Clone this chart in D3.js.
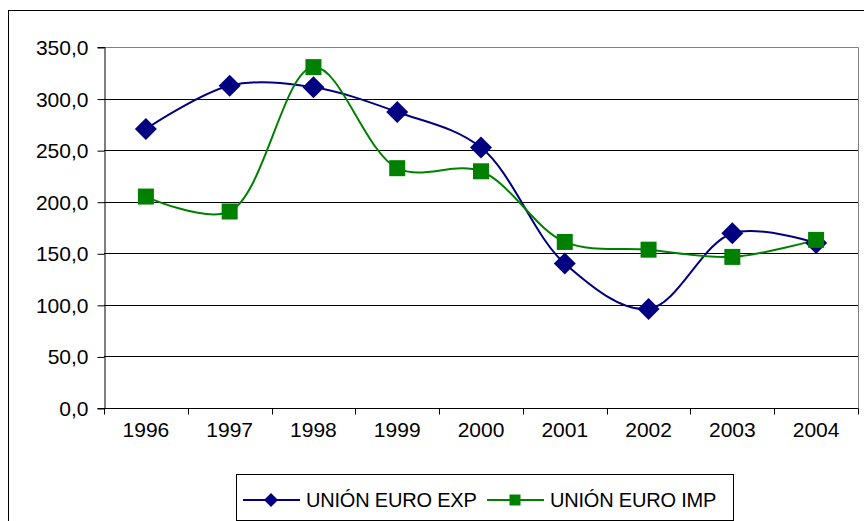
<!DOCTYPE html>
<html><head><meta charset="utf-8">
<script src="https://cdn.jsdelivr.net/npm/d3@7"></script>
<style>body{margin:0;background:#fff;} text{font-family:"Liberation Sans",Arial,sans-serif;}</style>
</head><body>
<svg id="c" width="864" height="521"></svg>
<script>
const years = ["1996","1997","1998","1999","2000","2001","2002","2003","2004"];
const expValues = [270.5, 312.5, 311.0, 287.0, 252.5, 140.0, 96.0, 169.5, 160.0];
const impValues = [205.0, 190.5, 330.5, 232.5, 229.5, 161.0, 153.5, 146.5, 163.0];
const yTicks = [0, 50, 100, 150, 200, 250, 300, 350];
const seriesNames = ["UNIÓN EURO EXP", "UNIÓN EURO IMP"];
const seriesColors = ["#000080", "#008000"];

const svg = d3.select("#c");
const L = 104, R = 858, T = 47, B = 408;
const x = d3.scaleBand().domain(years).range([L, R]);
const y = d3.scaleLinear().domain([0, 350]).range([B, T]);
const loc = d3.formatLocale({decimal: ",", thousands: ".", grouping: [3], currency: ["", "€"]});
const fmt = loc.format(".1f");

// outer border
svg.append("rect").attr("x", 8.5).attr("y", 10.5).attr("width", 900).attr("height", 600)
  .attr("fill", "none").attr("stroke", "#000").attr("stroke-width", 1);

// gridlines
svg.append("g").selectAll("line").data(yTicks.filter(d => d > 0 && d < 350)).join("line")
  .attr("x1", L).attr("x2", R)
  .attr("y1", d => Math.round(y(d)) + 0.5).attr("y2", d => Math.round(y(d)) + 0.5)
  .attr("stroke", "#000").attr("stroke-width", 1);
// plot border top/right (gray)
svg.append("path").attr("d", `M${L},${Math.round(T)+0.5}H${R+0.5}V${B}`)
  .attr("fill", "none").attr("stroke", "#808080").attr("stroke-width", 1);

// y axis
const ya = svg.append("g").attr("transform", `translate(${L+0.5},0)`)
  .call(d3.axisLeft(y).tickValues(yTicks).tickFormat(fmt).tickSize(7).tickPadding(9));
ya.select(".domain").attr("stroke", "#000");
ya.selectAll(".tick line").attr("stroke", "#000").attr("transform", "translate(0,0.5)");
ya.selectAll("text").attr("font-size", "21px").attr("fill", "#000").attr("font-family", "Liberation Sans, Arial, sans-serif").attr("dy", "0.36em");

// x axis
const xa = svg.append("g").attr("transform", `translate(0,${B+0.5})`)
  .call(d3.axisBottom(x).tickSize(0).tickPadding(21));
xa.select(".domain").attr("stroke", "#000").attr("d", `M${L},0H${R+0.5}`);
xa.selectAll("text").attr("font-size", "21px").attr("fill", "#000").attr("font-family", "Liberation Sans, Arial, sans-serif").attr("dy", "0.36em");
const bounds = years.map(d => x(d)).concat([x.range()[1]]);
xa.append("g").selectAll("line").data(bounds).join("line")
  .attr("x1", d => Math.round(d) + 0.5).attr("x2", d => Math.round(d) + 0.5)
  .attr("y1", 0).attr("y2", 6).attr("stroke", "#000");

const cx = d => x(d) + x.bandwidth() / 2;
const line = d3.line().x(d => cx(d.year)).y(d => y(d.v)).curve(d3.curveCatmullRom.alpha(0.5));

const series = [expValues, impValues].map((vals, i) => ({
  name: seriesNames[i], color: seriesColors[i],
  pts: years.map((yr, j) => ({year: yr, v: vals[j]}))
}));

series.forEach((s, i) => {
  svg.append("path").attr("d", line(s.pts)).attr("fill", "none")
    .attr("stroke", s.color).attr("stroke-width", 2);
});
// markers
svg.append("g").selectAll("path").data(series[0].pts).join("path")
  .attr("d", "M0,-11L11,0L0,11L-11,0Z")
  .attr("transform", d => `translate(${cx(d.year)},${y(d.v)})`)
  .attr("fill", series[0].color);
svg.append("g").selectAll("rect").data(series[1].pts).join("rect")
  .attr("x", d => cx(d.year) - 8).attr("y", d => y(d.v) - 8)
  .attr("width", 16).attr("height", 16).attr("fill", series[1].color);

// legend
const lg = svg.append("g");
lg.append("rect").attr("x", 236.5).attr("y", 474.5).attr("width", 497).attr("height", 46)
  .attr("fill", "#fff").attr("stroke", "#000");
const legItems = [{lx: 243, mx: 271, tx: 306}, {lx: 487, mx: 515, tx: 550}];
series.forEach((s, i) => {
  const it = legItems[i];
  lg.append("line").attr("x1", it.lx).attr("x2", it.lx + 57).attr("y1", 500).attr("y2", 500)
    .attr("stroke", s.color).attr("stroke-width", 2);
  if (i === 0) {
    lg.append("path").attr("d", "M0,-7L7,0L0,7L-7,0Z").attr("transform", `translate(${it.mx},500)`).attr("fill", s.color);
  } else {
    lg.append("rect").attr("x", it.mx - 5.5).attr("y", 494.5).attr("width", 11).attr("height", 11).attr("fill", s.color);
  }
  lg.append("text").attr("x", it.tx).attr("y", 507).attr("font-size", "20px")
    .attr("letter-spacing", "-0.2px").attr("fill", "#000").text(s.name);
});
</script>
</body></html>
